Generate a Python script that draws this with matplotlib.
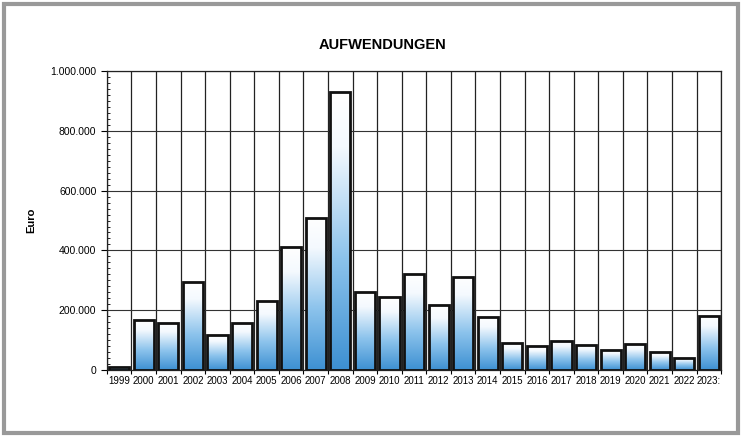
import numpy as np
import matplotlib
matplotlib.use("Agg")
import matplotlib.pyplot as plt
from matplotlib.colors import LinearSegmentedColormap
from matplotlib.patches import Rectangle
from matplotlib.ticker import FuncFormatter, MultipleLocator

# ---------------------------
# Data
# ---------------------------
years = ["1999", "2000", "2001", "2002", "2003", "2004", "2005", "2006", "2007",
         "2008", "2009", "2010", "2011", "2012", "2013", "2014", "2015", "2016",
         "2017", "2018", "2019", "2020", "2021", "2022", "2023:"]
expenses = [12000, 167000, 158000, 296000, 119000, 158000, 232000, 410000, 509000,
            931000, 261000, 244000, 320000, 216000, 312000, 178000, 90000, 80000,
            97000, 84000, 67000, 86000, 60000, 41000, 181000]

plt.rcParams['font.family'] = ['Liberation Sans', 'DejaVu Sans']

fig = plt.figure(figsize=(7.42, 4.38), dpi=100)
ax = fig.add_axes([0.144, 0.155, 0.828, 0.683])

# gradient: white on top, blue at the bottom of every bar
cmap = LinearSegmentedColormap.from_list(
    "bar", [(0.0, "#3d90d2"), (0.4, "#8cc3ec"), (0.8, "#f4f9fe"), (1.0, "#ffffff")])
grad = np.linspace(0, 1, 256).reshape(-1, 1)

x = np.arange(len(years))
width = 0.82
for xi, val in zip(x, expenses):
    ax.imshow(grad, cmap=cmap, origin="lower", aspect="auto",
              extent=[xi - width / 2, xi + width / 2, 0, val], zorder=2)
bars = ax.bar(x, expenses, width=width, facecolor="none",
              edgecolor="#111111", linewidth=2.0, zorder=3)

ax.set_xlim(-0.5, len(years) - 0.5)
ax.set_ylim(0, 1000000)

# grid: horizontal per 200k, vertical on category boundaries
ax.yaxis.set_major_locator(MultipleLocator(200000))
ax.yaxis.set_minor_locator(MultipleLocator(20000))
ax.yaxis.set_major_formatter(FuncFormatter(lambda v, p: f"{int(v):,}".replace(",", ".")))
ax.set_xticks(x)
ax.set_xticklabels(years, fontsize=7, family=['Liberation Sans Narrow', 'Liberation Sans'])
ax.set_xticks(np.arange(-0.5, len(years)), minor=True)
ax.tick_params(axis="x", which="major", length=0, pad=4)
ax.tick_params(axis="x", which="minor", length=3, width=0.8, direction="out")
ax.tick_params(axis="y", which="major", length=4, width=0.8, labelsize=7.5)
ax.tick_params(axis="y", which="minor", length=2, width=0.6, direction="in")
ax.grid(True, axis="y", which="major", color="#333333", linewidth=0.8, zorder=0)
ax.grid(True, axis="x", which="minor", color="#222222", linewidth=0.9, zorder=0)
ax.set_axisbelow(True)

for s in ax.spines.values():
    s.set_linewidth(0.9)
    s.set_color("#222222")

fig.text(0.516, 0.897, "AUFWENDUNGEN", fontsize=10.5, fontweight="bold",
         ha="center", va="center")
ax.set_ylabel("Euro", fontsize=8, fontweight="bold", labelpad=10)

# scanned frame around the chart
fig.patches.append(Rectangle((0.006, 0.012), 0.988, 0.978, transform=fig.transFigure,
                             fill=False, edgecolor="#999999", linewidth=3))

plt.savefig("out.png", dpi=100)
